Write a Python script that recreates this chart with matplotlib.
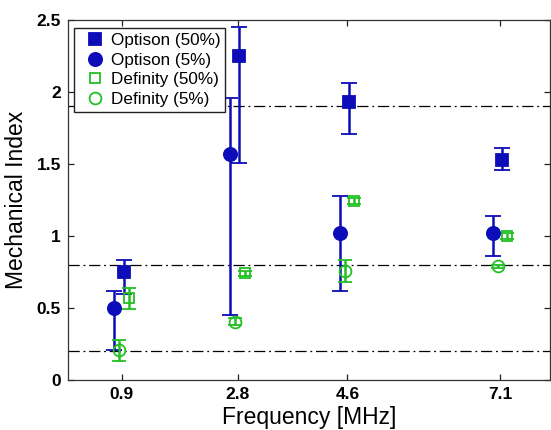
import numpy as np
import matplotlib
matplotlib.use("Agg")
import matplotlib.pyplot as plt
from matplotlib.lines import Line2D

plt.rcParams['font.family'] = ['Liberation Sans', 'DejaVu Sans']

freqs = [0.9, 2.8, 4.6, 7.1]
freq_labels = ['0.9', '2.8', '4.6', '7.1']

optison50 = [0.75, 2.25, 1.93, 1.53]
optison50_lo = [0.60, 1.51, 1.71, 1.46]
optison50_hi = [0.83, 2.45, 2.06, 1.61]

optison5 = [0.50, 1.57, 1.02, 1.02]
optison5_lo = [0.21, 0.45, 0.62, 0.86]
optison5_hi = [0.62, 1.96, 1.28, 1.14]

definity50 = [0.57, 0.74, 1.245, 1.00]
definity50_lo = [0.49, 0.72, 1.225, 0.98]
definity50_hi = [0.64, 0.76, 1.265, 1.02]

definity5 = [0.21, 0.405, 0.76, 0.79]
definity5_lo = [0.13, 0.38, 0.68, 0.78]
definity5_hi = [0.28, 0.43, 0.83, 0.80]

thresholds = [1.9, 0.8, 0.2]
yticks = [0, 0.5, 1, 1.5, 2, 2.5]
ytick_labels = ['0', '0.5', '1', '1.5', '2', '2.5']

BLUE = '#0c0cb8'
GREEN = '#22c022'

fig = plt.figure(figsize=(5.51, 4.30), dpi=100)
ax = fig.add_axes([68/551, 50/430, 482/551, 360/430])

for y in thresholds:
    ax.axhline(y, color='black', lw=0.9, ls=(0, (9, 3, 1.5, 3)), zorder=1)

series = [
    (optison50, optison50_lo, optison50_hi, 0.03, 's', BLUE, True, 8.5, 6, 'Optison (50%)'),
    (optison5, optison5_lo, optison5_hi, -0.12, 'o', BLUE, True, 9.5, 6, 'Optison (5%)'),
    (definity50, definity50_lo, definity50_hi, 0.115, 's', GREEN, False, 7.8, 5, 'Definity (50%)'),
    (definity5, definity5_lo, definity5_hi, -0.04, 'o', GREEN, False, 8.5, 5, 'Definity (5%)'),
]

handles = []
for vals, lo, hi, off, mk, col, filled, ms, cs, lab in series:
    v = np.array(vals)
    x = np.array(freqs) + off
    yerr = [v - np.array(lo), np.array(hi) - v]
    ax.errorbar(x, v, yerr=yerr, fmt=mk, color=col, ecolor=col,
                mfc=col if filled else 'none', mec=col, ms=ms, mew=1.3,
                elinewidth=1.8, capsize=cs, capthick=1.6, zorder=3)
    handles.append(Line2D([], [], ls='none', marker=mk, color=col,
                          mfc=col if filled else 'none', mec=col, ms=ms, mew=1.3, label=lab))

ax.set_xlim(0.02, 7.92)
ax.set_ylim(0, 2.5)
ax.set_xticks(freqs)
ax.set_xticklabels(freq_labels, fontweight='bold', fontsize=12.5)
ax.set_yticks(yticks)
ax.set_yticklabels(ytick_labels, fontweight='bold', fontsize=12.5)
ax.tick_params(direction='in', length=4, width=0.9, top=True, right=True, pad=5, colors='#222222')
for lbl in ax.get_xticklabels() + ax.get_yticklabels():
    lbl.set_color('black')
for s in ax.spines.values():
    s.set_linewidth(0.9)
    s.set_color('#333333')

ax.set_xlabel('Frequency [MHz]', fontsize=16.5, labelpad=3)
ax.set_ylabel('Mechanical Index', fontsize=16.5, labelpad=6)

leg = ax.legend(handles=handles, loc='upper left', bbox_to_anchor=(0.012, 0.978),
                borderaxespad=0, fontsize=12.3, frameon=True, fancybox=False,
                edgecolor='#222222', framealpha=1, borderpad=0.3,
                handlelength=1.9, handletextpad=-0.05, labelspacing=0.27, numpoints=1)
leg.get_frame().set_linewidth(1.0)

fig.savefig('out.png', dpi=100)
